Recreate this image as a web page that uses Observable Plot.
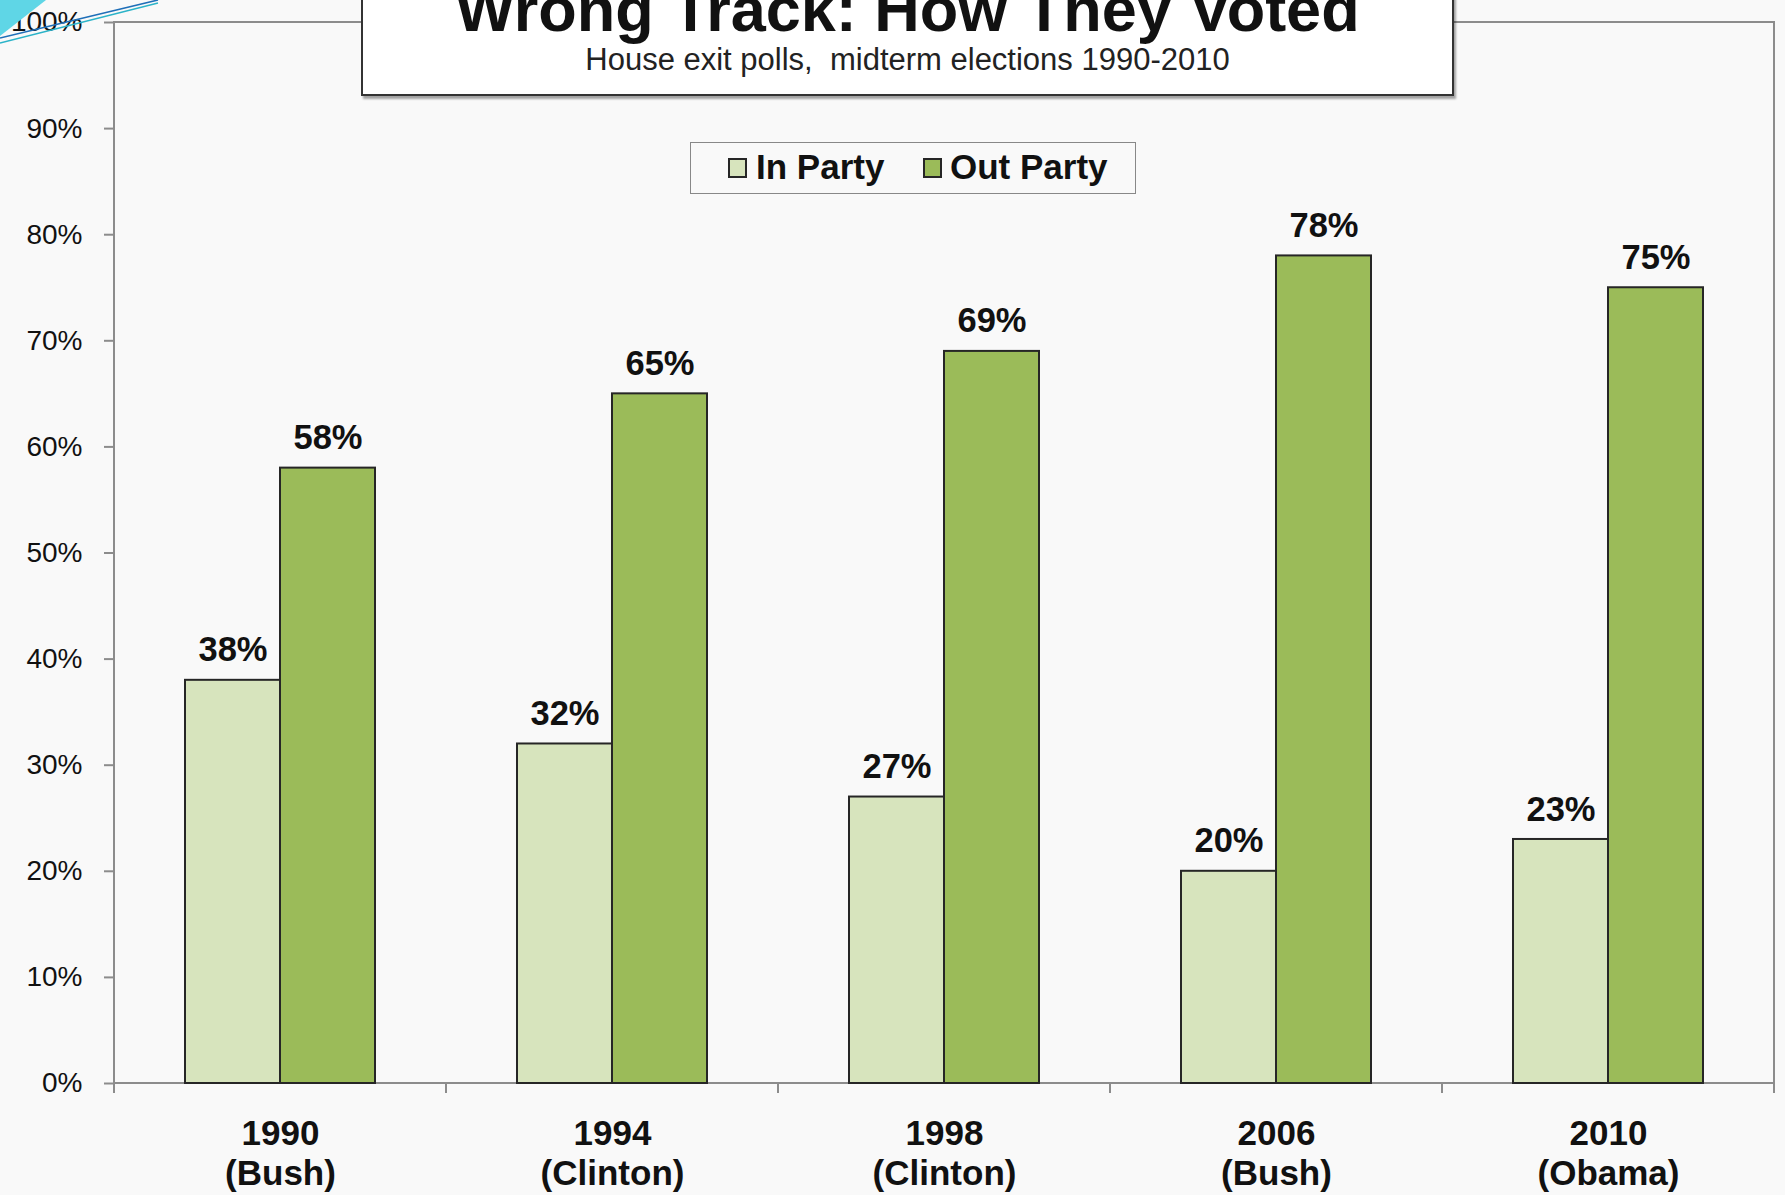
<!DOCTYPE html>
<html>
<head>
<meta charset="utf-8">
<script src="https://cdn.jsdelivr.net/npm/d3@7"></script>
<script src="https://cdn.jsdelivr.net/npm/@observablehq/plot@0.6"></script>
<style>
  html, body { margin: 0; padding: 0; background: #f9f9f9; }
  #wrap { position: relative; width: 1785px; height: 1195px; overflow: hidden;
          font-family: "Liberation Sans", Arial, sans-serif; color: #111; background: #f9f9f9; }
  #chart { position: absolute; left: 0; top: 0; }
  #deco { position: absolute; left: 0; top: 0; }
  #tbox { position: absolute; left: 361px; top: -14px; width: 1089px; height: 106px;
          background: #fff; border: 2px solid #333; box-shadow: 2px 3px 2px rgba(0,0,0,0.35); }
  #title { position: absolute; left: 361px; width: 1093px; top: -22px; text-align: center;
           font-size: 63px; line-height: 63px; font-weight: bold; white-space: nowrap; }
  #subtitle { position: absolute; left: 361px; width: 1093px; top: 44px; text-align: center;
              font-size: 31px; line-height: 31px; white-space: pre; color: #222; }
  #legend { position: absolute; left: 690px; top: 142px; width: 444px; height: 50px;
            border: 1.5px solid #888; }
  .sw { position: absolute; top: 15px; width: 15px; height: 16px; border: 2px solid #262626; }
  .lab { position: absolute; top: 6px; font-size: 35px; line-height: 35px; font-weight: bold; white-space: nowrap; }
</style>
</head>
<body>
<div id="wrap">
  <div id="chart"></div>
  <svg id="deco" width="170" height="60">
    <polygon points="0,0 46,0 0,36" fill="#5fd6e6"/>
    <line x1="0" y1="38" x2="158" y2="0" stroke="#1f6fb8" stroke-width="1.6"/>
    <line x1="0" y1="43" x2="158" y2="3" stroke="#2bb3c8" stroke-width="1.4"/>
  </svg>
  <div id="tbox"></div>
  <div id="title">Wrong Track: How They Voted</div>
  <div id="subtitle">House exit polls,  midterm elections 1990-2010</div>
  <div id="legend"></div>
</div>
<script>
const years = ["1990", "1994", "1998", "2006", "2010"];
const presidents = ["Bush", "Clinton", "Clinton", "Bush", "Obama"];
const parties = ["In Party", "Out Party"];
const inParty = [38, 32, 27, 20, 23];
const outParty = [58, 65, 69, 78, 75];
const yTicks = [0, 10, 20, 30, 40, 50, 60, 70, 80, 90, 100];
const partyColors = ["#d7e4bd", "#9bbb59"];

const rows = years.flatMap((yr, i) => [
  {year: yr, who: presidents[i], party: parties[0], value: inParty[i]},
  {year: yr, who: presidents[i], party: parties[1], value: outParty[i]}
]);

const plot = Plot.plot({
  width: 1785,
  height: 1195,
  marginLeft: 113,
  marginRight: 11,
  marginTop: 22,
  marginBottom: 112,
  style: {background: "transparent", fontFamily: "'Liberation Sans', Arial, sans-serif",
          fontSize: "28px", color: "#111", overflow: "visible"},
  facet: {data: rows, x: "year"},
  fx: {domain: years, padding: 0, axis: null},
  x: {domain: parties, paddingInner: 0, paddingOuter: 0.737, axis: null},
  y: {domain: [0, 100], ticks: yTicks, tickFormat: d => d + "%", tickSize: 10, tickPadding: 22, label: null},
  color: {domain: parties, range: partyColors},
  marks: [
    Plot.barY(rows, {x: "party", y: "value", fill: "party", stroke: "#262626", strokeWidth: 2}),
    Plot.text(rows, {x: "party", y: "value", text: d => d.value + "%", dy: -30,
                     fontSize: 34.5, fontWeight: "bold", fill: "#111"}),
    Plot.text(rows, {filter: d => d.party === parties[0], text: d => `${d.year}\n(${d.who})`,
                     frameAnchor: "bottom", lineAnchor: "top", dy: 33, lineHeight: 1.14,
                     fontSize: 35, fontWeight: "bold", fill: "#111"})
  ]
});

document.getElementById("chart").appendChild(plot);

// Excel-like plot frame and category boundary ticks, positioned through Plot's scales
const svg = d3.select(plot);
const fx = plot.scale("fx");
const ys = plot.scale("y");
const bounds = fx.domain.map(d => fx.apply(d));
bounds.push(bounds[bounds.length - 1] + fx.bandwidth);
const y0 = ys.apply(0), y1 = ys.apply(100);
const g = svg.insert("g", "g").attr("aria-label", "plot-frame");
g.append("rect")
  .attr("x", bounds[0]).attr("y", y1)
  .attr("width", bounds[bounds.length - 1] - bounds[0]).attr("height", y0 - y1)
  .attr("fill", "none").attr("stroke", "#8c8c8c").attr("stroke-width", 2);
g.selectAll("line").data(bounds).join("line")
  .attr("x1", d => d).attr("x2", d => d)
  .attr("y1", y0).attr("y2", y0 + 10)
  .attr("stroke", "#8c8c8c").attr("stroke-width", 2);

// grey y-axis tick marks
svg.selectAll('[aria-label^="y-axis"]').each(function() {
  const sel = d3.select(this);
  const marks = sel.selectAll("path, line");
  if (!marks.empty()) {
    sel.attr("stroke", "#8c8c8c");
    marks.attr("stroke", "#8c8c8c").attr("stroke-width", 2);
  }
});

// legend
const legend = d3.select("#legend");
const offsets = [[37, 65], [232, 259]];
parties.forEach((p, i) => {
  legend.append("div").attr("class", "sw")
    .style("left", offsets[i][0] + "px").style("background", partyColors[i]);
  legend.append("div").attr("class", "lab")
    .style("left", offsets[i][1] + "px").text(p);
});
</script>
</body>
</html>
